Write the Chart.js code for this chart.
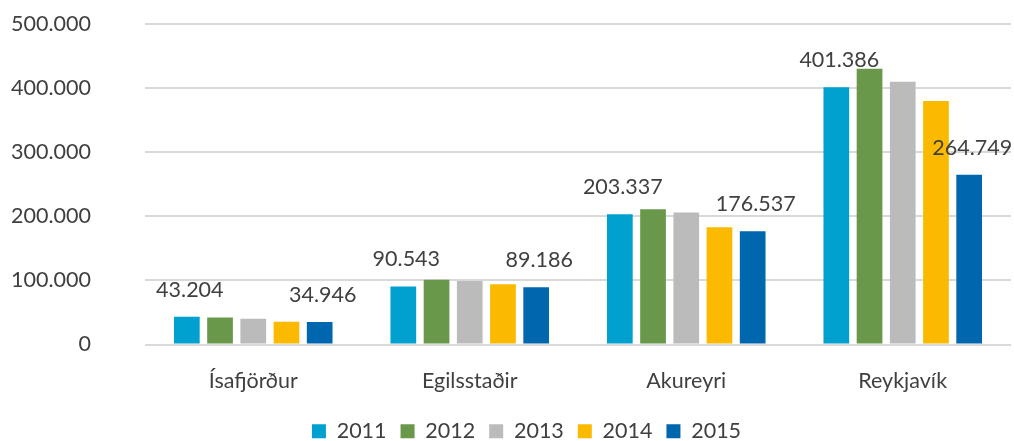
<!DOCTYPE html>
<html>
<head>
<meta charset="utf-8">
<script src="https://cdn.jsdelivr.net/npm/chart.js@4"></script>
<style>
html,body{margin:0;padding:0;background:#fff;}
#wrap{width:1014px;height:441px;}
</style>
</head>
<body>
<div id="wrap"><canvas id="c" width="1014" height="441"></canvas></div>
<script>
const categories = ['Ísafjörður', 'Egilsstaðir', 'Akureyri', 'Reykjavík'];
const years = ['2011', '2012', '2013', '2014', '2015'];
const v2011 = [43204, 90543, 203337, 401386];
const v2012 = [42000, 101000, 211000, 430000];
const v2013 = [40000, 99000, 206000, 410000];
const v2014 = [35500, 94000, 183000, 380000];
const v2015 = [34946, 89186, 176537, 264749];
const yTicks = [0, 100000, 200000, 300000, 400000, 500000];
const labelledSeries = [0, 4];

const colors = ['#00A0CF', '#69984A', '#BBBBBB', '#FBBA00', '#0066AD'];
const FONT = 'Lato, "Open Sans", sans-serif';
const TXT = '#404040';
const FS = 21.5;
const FW = '400';

function fmt(n){ return String(Math.round(n)).replace(/\B(?=(\d{3})+(?!\d))/g, '.'); }

const seriesValues = [v2011, v2012, v2013, v2014, v2015];

const labelPlugin = {
  id: 'barLabels',
  afterDatasetsDraw(chart){
    const ctx = chart.ctx;
    ctx.save();
    ctx.font = FW + ' ' + FS + 'px ' + FONT;
    ctx.fillStyle = TXT;
    ctx.textAlign = 'center';
    ctx.textBaseline = 'middle';
    labelledSeries.forEach(di => {
      const meta = chart.getDatasetMeta(di);
      meta.data.forEach((bar, i) => {
        ctx.fillText(fmt(chart.data.datasets[di].data[i]), bar.x + 3, bar.y - 27);
      });
    });
    ctx.restore();
  }
};

const legendShift = {
  id: 'legendShift',
  afterLayout(chart){
    const lg = chart.legend;
    if (!lg) return;
    lg.top += 11; lg.bottom += 11;
    lg.left += 21; lg.right += 21;
  }
};

new Chart(document.getElementById('c'), {
  type: 'bar',
  data: {
    labels: categories,
    datasets: years.map((y, i) => ({
      label: y,
      data: seriesValues[i],
      backgroundColor: colors[i],
      borderWidth: 0,
      categoryPercentage: 0.767,
      barPercentage: 0.774
    }))
  },
  options: {
    responsive: false,
    animation: false,
    devicePixelRatio: 1,
    layout: { padding: { left: 0, right: 3, top: 24, bottom: 0 } },
    plugins: {
      legend: {
        position: 'bottom',
        labels: {
          font: { family: FONT, size: FS, weight: FW },
          color: TXT,
          boxWidth: 14,
          boxHeight: 14,
          padding: 14
        }
      },
      tooltip: { enabled: false }
    },
    scales: {
      x: {
        grid: { display: false, drawTicks: false },
        border: { display: false },
        ticks: { font: { family: FONT, size: FS, weight: FW }, color: TXT, padding: 24 },
        afterFit(axis){ axis.height = 51; }
      },
      y: {
        min: 0, max: 500000,
        afterBuildTicks(axis){ axis.ticks = yTicks.map(v => ({ value: v })); },
        grid: { color: '#D9D9D9', lineWidth: 2, drawTicks: false },
        border: { display: false },
        ticks: {
          font: { family: FONT, size: FS, weight: FW }, color: TXT, padding: 54,
          callback: v => fmt(v)
        },
        afterFit(axis){ axis.width = 145; axis.paddingTop = 0; axis.paddingBottom = 0; }
      }
    }
  },
  plugins: [labelPlugin, legendShift]
});
</script>
</body>
</html>
